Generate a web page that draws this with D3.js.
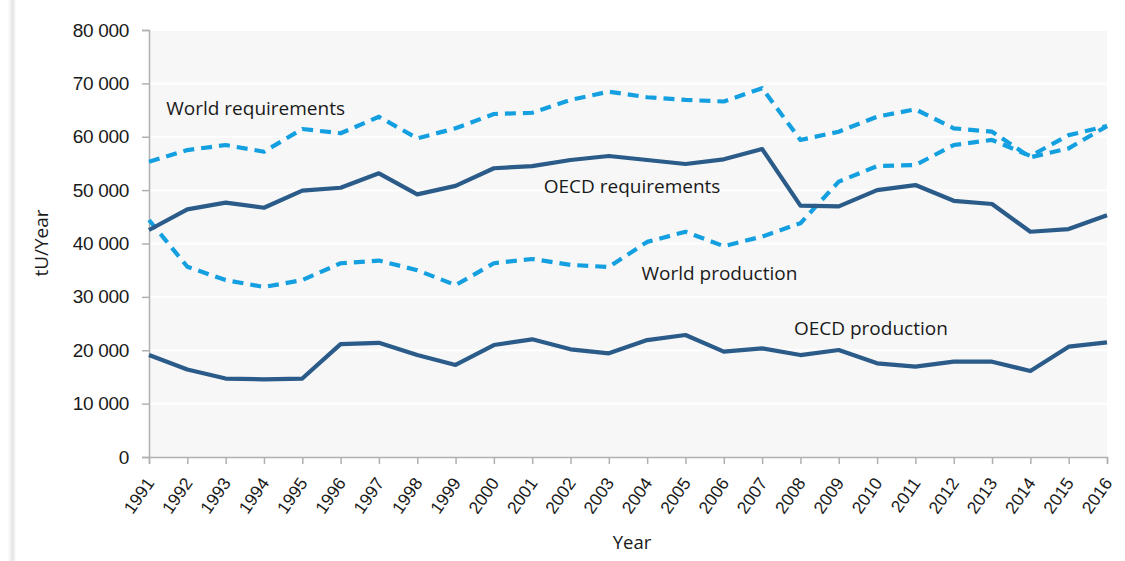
<!DOCTYPE html>
<html><head><meta charset="utf-8">
<script src="https://cdn.jsdelivr.net/npm/d3@7"></script>
<style>
body{margin:0;background:#fff;}
svg{display:block;font-family:"Open Sans","Noto Sans",sans-serif;}
</style></head>
<body><svg id="c" width="1125" height="561"></svg>
<script>
const years = d3.range(1991, 2017);
const worldRequirements = [55300,57500,58450,57200,61450,60650,63750,59700,61580,64260,64500,66900,68450,67400,66900,66600,69100,59400,60950,63760,65140,61580,60950,56150,57830,62000];
const oecdRequirements = [42530,46400,47650,46700,49900,50450,53150,49200,50800,54100,54500,55650,56400,55650,54900,55770,57700,47100,46950,50000,50950,48000,47400,42200,42700,45300];
const worldProduction = [44400,35650,33150,31850,33150,36300,36800,35000,32200,36300,37100,36000,35600,40300,42200,39500,41300,43800,51600,54500,54700,58450,59400,56400,60300,62000];
const oecdProduction = [19100,16400,14700,14550,14700,21150,21400,19100,17250,20980,22050,20170,19420,21900,22850,19730,20360,19100,20050,17550,16920,17860,17860,16110,20670,21490];
const yTicks = [0,10000,20000,30000,40000,50000,60000,70000,80000];
const seriesLabels = [
  {name:"World requirements", year:1991.45, value:64100},
  {name:"OECD requirements", year:2001.3, value:49400},
  {name:"World production", year:2003.85, value:33150},
  {name:"OECD production", year:2007.83, value:22850}
];

const svg = d3.select("#c");
const m = {l:149, r:1107, t:30, b:457};
const x = d3.scaleLinear().domain([1991,2016]).range([m.l, m.r]);
const y = d3.scaleLinear().domain([0,80000]).range([m.b, m.t]);

const defs = svg.append("defs");
const g1 = defs.append("linearGradient").attr("id","sh").attr("x1","0").attr("x2","1");
g1.append("stop").attr("offset","0").attr("stop-color","#fff");
g1.append("stop").attr("offset","0.6").attr("stop-color","#e4e4e4");
g1.append("stop").attr("offset","1").attr("stop-color","#fff");
svg.append("rect").attr("x",8).attr("y",0).attr("width",8).attr("height",561).attr("fill","url(#sh)");

svg.append("rect").attr("x",m.l).attr("y",m.t).attr("width",m.r-m.l).attr("height",m.b-m.t).attr("fill","#f7f7f7");
svg.append("g").selectAll("line").data(yTicks.slice(1)).join("line")
  .attr("x1",m.l).attr("x2",m.r).attr("y1",d=>y(d)).attr("y2",d=>y(d))
  .attr("stroke","#fff").attr("stroke-width",2);

const yAxis = d3.axisLeft(y).tickValues(yTicks).tickSize(7).tickPadding(13)
  .tickFormat(d => d === 0 ? "0" : (d/1000) + " 000");
const ya = svg.append("g").attr("transform",`translate(${m.l},0)`).call(yAxis);
ya.select(".domain").attr("stroke","#b0b0b0").attr("stroke-width",1.5);
ya.selectAll(".tick line").attr("stroke","#b0b0b0").attr("stroke-width",1.5);
ya.selectAll("text").attr("font-size",19).attr("fill","#1a1a1a").attr("letter-spacing","-0.3");

const xAxis = d3.axisBottom(x).tickValues(years).tickSize(7).tickFormat(d3.format("d"));
const xa = svg.append("g").attr("transform",`translate(0,${m.b})`).call(xAxis);
xa.select(".domain").attr("stroke","#b0b0b0").attr("stroke-width",1.5);
xa.selectAll(".tick line").attr("stroke","#b0b0b0").attr("stroke-width",1.5);
xa.selectAll("text").attr("font-size",17.5).attr("fill","#1a1a1a")
  .attr("text-anchor","end").attr("dy","0.35em").attr("y",0).attr("x",0)
  .attr("transform","translate(0.5,22.5) rotate(-55)");

const line = d3.line().x((d,i)=>x(years[i])).y(d=>y(d));
const dark = "#2a5b89", light = "#14a0e0";
const lines = [
  {data:worldRequirements, color:light, dash:"11,7"},
  {data:worldProduction, color:light, dash:"11,7"},
  {data:oecdRequirements, color:dark, dash:null},
  {data:oecdProduction, color:dark, dash:null}
];
svg.append("g").selectAll("path").data(lines).join("path")
  .attr("d",d=>line(d.data)).attr("fill","none")
  .attr("stroke",d=>d.color).attr("stroke-width",4.2)
  .attr("stroke-dasharray",d=>d.dash).attr("stroke-linejoin","round");

svg.append("g").selectAll("text").data(seriesLabels).join("text")
  .attr("x",d=>x(d.year)).attr("y",d=>y(d.value))
  .attr("font-size",19).attr("fill","#1a1a1a").text(d=>d.name);

svg.append("text").attr("transform","translate(48,243) rotate(-90)")
  .attr("text-anchor","middle").attr("font-size",19).attr("fill","#1a1a1a").text("tU/Year");
svg.append("text").attr("x",632).attr("y",549).attr("text-anchor","middle")
  .attr("font-size",18.5).attr("fill","#1a1a1a").text("Year");
</script></body></html>
